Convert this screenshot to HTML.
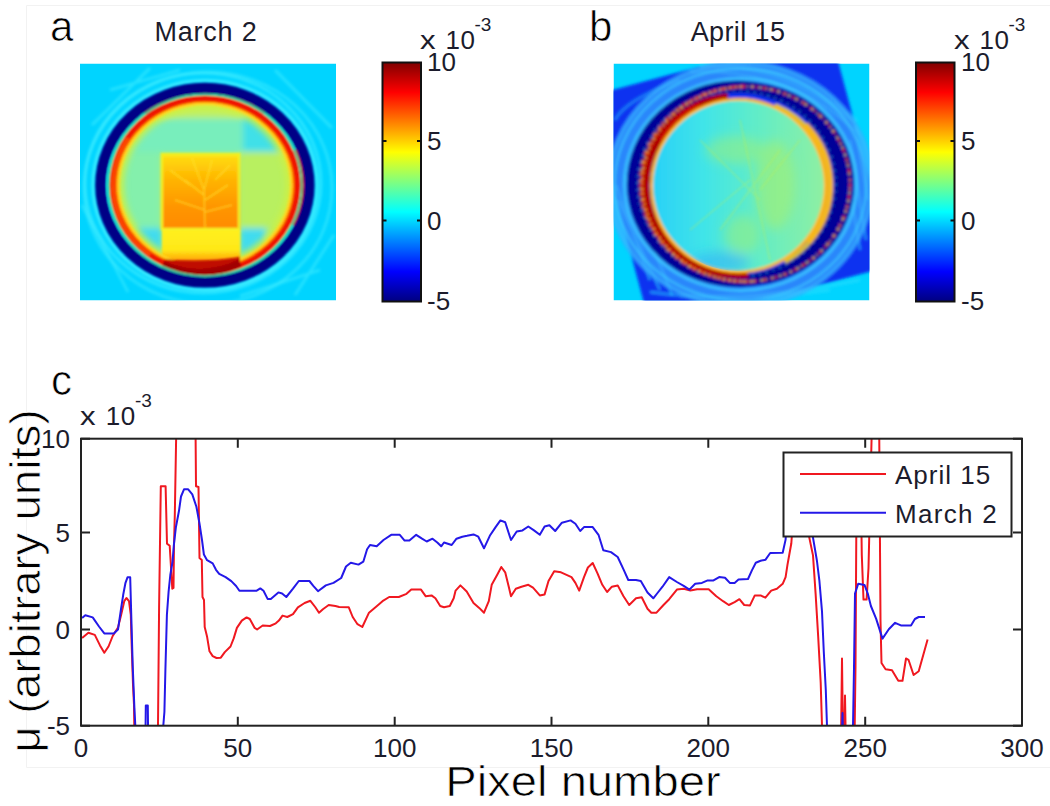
<!DOCTYPE html>
<html><head><meta charset="utf-8"><style>
html,body{margin:0;padding:0;background:#fff;}
svg{display:block;}
text{font-family:"Liberation Sans", sans-serif;}
</style></head><body>
<svg width="1050" height="806" viewBox="0 0 1050 806">
<defs>
<linearGradient id="jet" x1="0" y1="0" x2="0" y2="1">
<stop offset="0" stop-color="#800000"/><stop offset="0.125" stop-color="#ff0000"/><stop offset="0.375" stop-color="#ffff00"/><stop offset="0.625" stop-color="#00ffff"/><stop offset="0.875" stop-color="#0000ff"/><stop offset="1" stop-color="#000080"/>
</linearGradient>
<clipPath id="clipA"><rect x="80" y="63.5" width="256" height="237"/></clipPath>
<clipPath id="clipBin"><ellipse cx="738.5" cy="185.6" rx="86" ry="85.3"/></clipPath>
<clipPath id="clipB"><rect x="613.5" y="63.5" width="256" height="237"/></clipPath>
<clipPath id="clipAin"><ellipse cx="204.9" cy="185.2" rx="96" ry="90"/></clipPath>
<filter id="blur3" x="-10%" y="-10%" width="120%" height="120%"><feGaussianBlur stdDeviation="3"/></filter>
<filter id="blur6" x="-20%" y="-20%" width="140%" height="140%"><feGaussianBlur stdDeviation="6"/></filter>
<linearGradient id="yelb" x1="0" y1="0" x2="0" y2="1"><stop offset="0" stop-color="#fff020"/><stop offset="0.6" stop-color="#ffe818"/><stop offset="1" stop-color="#ff9000"/></linearGradient>
<linearGradient id="orng" x1="0" y1="0" x2="0" y2="1"><stop offset="0" stop-color="#f8f020"/><stop offset="0.07" stop-color="#ffd810"/><stop offset="0.35" stop-color="#ffb400"/><stop offset="0.7" stop-color="#ff9600"/><stop offset="1" stop-color="#ff8a00"/></linearGradient>
<filter id="blur1" x="-5%" y="-5%" width="110%" height="110%"><feGaussianBlur stdDeviation="1.2"/></filter>
<filter id="blur15" x="-5%" y="-5%" width="110%" height="110%"><feGaussianBlur stdDeviation="1.5"/></filter>
<linearGradient id="bint" x1="0" y1="0" x2="1" y2="0"><stop offset="0" stop-color="#28d0f8"/><stop offset="0.3" stop-color="#40e4e8"/><stop offset="0.6" stop-color="#60ecc8"/><stop offset="1" stop-color="#90f0a0"/></linearGradient>
<clipPath id="axc"><rect x="81" y="438.7" width="941" height="287"/></clipPath>
</defs>
<rect width="1050" height="806" fill="#fff"/>
<path d="M26.5 767.5V5.5H1050M26.5 767.5H1050" stroke="#f2f2f2" stroke-width="1" fill="none"/>
<!-- panel letters -->
<g font-size="42" fill="#000" stroke="#fff" stroke-width="0.7">
<text x="50" y="41.4">a</text><text x="589" y="41.4">b</text><text x="51" y="395">c</text>
</g>
<g font-size="27" fill="#1c1c2c">
<text x="206" y="41" text-anchor="middle" letter-spacing="0.8">March 2</text>
<text x="738" y="41" text-anchor="middle" letter-spacing="0.4">April 15</text>
</g>
<!-- heatmap a -->
<g clip-path="url(#clipA)">
<rect x="80" y="63.5" width="256" height="237" fill="#00d4ff"/>
<g filter="url(#blur15)" fill="none" stroke="#50f4ff">
<ellipse cx="205" cy="185" rx="112" ry="104.5" stroke-width="3" opacity="0.8"/>
<ellipse cx="203" cy="183" rx="118" ry="110" stroke-width="2.5" opacity="0.6"/>
<ellipse cx="208" cy="188" rx="124" ry="116" stroke-width="2.5" opacity="0.5"/>
<path d="M82 205 L128 292 M92 125 L150 68 M275 70 L332 128 M295 295 L334 235 M110 90 L180 70 M240 296 L320 270" stroke-width="2.5" opacity="0.5"/>
</g>
<ellipse cx="204.9" cy="185.2" rx="96" ry="90" fill="#a8f07c"/>
<g clip-path="url(#clipAin)" filter="url(#blur3)">
<rect x="100" y="90" width="220" height="40" fill="#c0f060"/>
<rect x="118" y="118" width="127" height="36" fill="#78eebc"/>
<rect x="243" y="113" width="50" height="40" fill="#40e0e8"/>
<rect x="100" y="152" width="61" height="78" fill="#84f0ac"/>
<rect x="100" y="228" width="36" height="45" fill="#88f0a0"/>
<rect x="134" y="228" width="28" height="30" fill="#40dcf0"/>
<rect x="240" y="152" width="60" height="78" fill="#b8f060"/>
<rect x="240" y="228" width="26" height="32" fill="#40dcf0"/>
<rect x="266" y="228" width="40" height="45" fill="#a0f080"/>
</g>
<ellipse cx="204.9" cy="185.2" rx="85" ry="80" fill="none" stroke="#d0f040" stroke-width="7" filter="url(#blur3)" clip-path="url(#clipAin)"/>
<g clip-path="url(#clipAin)" filter="url(#blur1)">
<rect x="160.8" y="153" width="79.6" height="77" fill="url(#orng)"/>
<path d="M192 158 L204 190 L205 228 M204 190 L212 160 M204 195 L185 180 M205 200 L228 185 M205 210 L175 200 M205 212 L232 205 M170 170 L190 185 M230 165 L215 180" stroke="#ffe830" stroke-width="1.6" fill="none" opacity="0.55"/>
<rect x="162" y="154" width="77" height="75" fill="none" stroke="#f0f020" stroke-width="2.5"/>
<rect x="162" y="229.6" width="78.4" height="34" fill="url(#yelb)"/>
</g>
<g filter="url(#blur1)" fill="none">
<ellipse cx="204.9" cy="185.2" rx="86.5" ry="81.5" stroke="#ffd820" stroke-width="3"/>
<ellipse cx="204.9" cy="185.2" rx="89" ry="84" stroke="#ff9000" stroke-width="3"/>
<path d="M162 259 Q203 263 240 257 L240 268 Q203 284 162 268 Z" fill="#c00800" stroke="none"/>
<ellipse cx="204.9" cy="185.2" rx="92.3" ry="86.6" stroke="#f01400" stroke-width="6"/>
<path d="M128 138 A92.3 86.6 0 0 0 150 255" stroke="#ff5000" stroke-width="4" opacity="0.85"/>
<path d="M145 113 A92 86.6 0 0 1 265 112" stroke="#d00000" stroke-width="5.5"/>
<path d="M295 150 A92 86.6 0 0 1 293 225" stroke="#e00800" stroke-width="6"/>
<path d="M163 264 Q203 281 240 263" stroke="#a00000" stroke-width="7"/>
<ellipse cx="204.9" cy="185.2" rx="96.7" ry="91" stroke="#30e0a0" stroke-width="2"/>
<ellipse cx="204.9" cy="185.2" rx="104.4" ry="97.1" stroke="#000086" stroke-width="10.5"/>
</g>
</g>

<!-- heatmap b -->
<g clip-path="url(#clipB)">
<rect x="613.5" y="63.5" width="256" height="237" fill="#00d4ff"/>
<g filter="url(#blur15)">
<rect x="-125" y="-121" width="250" height="242" fill="#0a30f0" transform="translate(740.7,180.9) rotate(-15)"/>
<g stroke="#30e0ff" fill="none">
<path d="M700 66 Q780 60 856 122" stroke-width="6" opacity="0.45"/>
<path d="M690 72 Q790 66 860 135" stroke-width="3" opacity="0.5"/>
<path d="M855 125 L868 200 M850 140 L866 240 M845 160 L860 250" stroke-width="2.5" opacity="0.5"/>
<path d="M616 185 L650 280 M618 200 L660 290 M625 175 L672 295" stroke-width="2.5" opacity="0.55"/>
<path d="M650 292 Q740 305 860 280 M680 296 Q760 300 830 290" stroke-width="3" opacity="0.5"/>
<path d="M615 120 Q625 100 680 80" stroke-width="3" opacity="0.4"/>
</g>
<ellipse cx="740.5" cy="184.4" rx="123.5" ry="113.5" fill="none" stroke="#38a8ff" stroke-width="21" opacity="0.72"/>
<ellipse cx="740.5" cy="184.4" rx="131" ry="121" fill="none" stroke="#40d0ff" stroke-width="2" opacity="0.5"/>
<ellipse cx="740.5" cy="184.4" rx="116" ry="106" fill="none" stroke="#40d8ff" stroke-width="3" opacity="0.7"/>
<ellipse cx="740.5" cy="184.4" rx="126" ry="116" fill="none" stroke="#40d8ff" stroke-width="2.5" opacity="0.6"/>
<ellipse cx="745" cy="184" rx="105" ry="97.5" fill="none" stroke="#000098" stroke-width="8"/>
<ellipse cx="736.5" cy="183.8" rx="103.5" ry="97" fill="none" stroke="#000098" stroke-width="12"/>
<ellipse cx="745" cy="184" rx="105" ry="97.5" fill="none" stroke="#d02000" stroke-width="2.2" stroke-dasharray="3 2 2 4 4 2 1 3"/>
<ellipse cx="745" cy="184" rx="105" ry="97.5" fill="none" stroke="#f0e040" stroke-width="1.6" stroke-dasharray="2 5 1 3 2 6" stroke-dashoffset="3"/>
<ellipse cx="736.5" cy="183.8" rx="99" ry="93" fill="none" stroke="#40d0ff" stroke-width="1.2" stroke-dasharray="2 5" opacity="0.7"/>
<path d="M728 97.6 A92.5 88 0 1 0 748 273.5" fill="none" stroke="#b00000" stroke-width="8.5"/>
<path d="M745 86.5 A105 97.5 0 1 0 755 281.2" fill="none" stroke="#e02000" stroke-width="2.6" stroke-dasharray="4 1.5 2 2"/>
<path d="M745 86.5 A105 97.5 0 1 0 755 281.2" fill="none" stroke="#f8e040" stroke-width="1.4" stroke-dasharray="1.5 4 2 3" stroke-dashoffset="2"/>
<path d="M700 104 A92.5 88 0 0 0 660 140" fill="none" stroke="#d01000" stroke-width="3"/>
<path d="M775 105 A91.5 88 0 0 1 785 262" fill="none" stroke="#f0d020" stroke-width="4" opacity="0.9"/>
<path d="M805 125 A91.5 88 0 0 1 808 242" fill="none" stroke="#f8b818" stroke-width="7" opacity="0.9"/>
<ellipse cx="738.5" cy="185.6" rx="87.5" ry="86.8" fill="url(#bint)"/>
<ellipse cx="738.5" cy="185.6" rx="87" ry="86.3" fill="none" stroke="#ffb818" stroke-width="3"/>
</g>
<g clip-path="url(#clipBin)" filter="url(#blur6)">
<ellipse cx="775" cy="185" rx="20" ry="45" fill="#b0f060" opacity="0.5"/>
<ellipse cx="735" cy="150" rx="30" ry="14" fill="#a8f068" opacity="0.45"/>
<ellipse cx="742" cy="235" rx="18" ry="20" fill="#a8f068" opacity="0.45"/>
<ellipse cx="720" cy="262" rx="30" ry="10" fill="#30b0f8" opacity="0.6"/>
</g>
<g clip-path="url(#clipBin)" stroke="#c0f050" stroke-width="1.5" fill="none" opacity="0.35" filter="url(#blur1)">
<path d="M700 140 L760 200 M740 120 L770 260 M780 150 L720 230 M690 230 L750 180 M760 190 L800 140"/>
</g>
</g>

<!-- colorbars -->
<g stroke="#111" stroke-width="2">
<rect x="382.5" y="62.5" width="38.5" height="239" fill="url(#jet)"/>
<rect x="916" y="62.5" width="38.5" height="239" fill="url(#jet)"/>
<path d="M421 141H417M421 220.5H417M382.5 141H386.5M382.5 220.5H386.5M954.5 141H950.5M954.5 220.5H950.5M916 141H920M916 220.5H920" />
</g>
<g font-size="26" fill="#1c1c2c">
<text x="427" y="71">10</text><text x="427" y="150">5</text><text x="427" y="230">0</text><text x="427" y="310">-5</text>
<text x="961" y="71">10</text><text x="961" y="150">5</text><text x="961" y="230">0</text><text x="961" y="310">-5</text>
<text x="420" y="48.6" transform="translate(420,48.6) scale(1.2,1) translate(-420,-48.6)">x</text><text x="445.5" y="48.6" letter-spacing="0.5">10</text><text x="474.5" y="31" font-size="19">-3</text>
<text x="954" y="48.6" transform="translate(954,48.6) scale(1.2,1) translate(-954,-48.6)">x</text><text x="979.5" y="48.6" letter-spacing="0.5">10</text><text x="1008.5" y="31" font-size="19">-3</text>
</g>
<!-- chart -->
<g clip-path="url(#axc)" fill="none" stroke-width="2" stroke-linejoin="round">
<polyline stroke="#f01820" points="82.1,638 88.4,632.8 94.8,634.9 100,645.4 104.3,652.8 108.5,646.5 112.7,636 118,627.5 121.1,614.9 124.3,601.1 126.4,598 129,601.1 130.8,614.9 131.5,640 133,685 134,705 135,780 157.5,780 159.1,606.4 160.8,486.2 165.6,486.2 167,543.6 169.7,545.7 172.3,588.7 173.5,588 174,545 174.8,515 176.8,400 195.3,400 196,486.2 198.5,487 199.5,558 201.8,560 202.5,597 204,600 204.7,627 207.1,636.8 209.5,651.3 212.7,656.1 216.5,658 220.8,657.7 224.8,652.1 230.5,646.5 233.7,638.4 236.9,627.9 241.8,620.6 246.6,617.4 249.8,619 254.7,627.9 257.1,629.5 262.7,625.5 270,626 275.8,623.3 278.9,620.6 282.5,615.6 287.3,617 293,614.2 297.9,607.3 304.6,603 310.4,600.8 315.2,607 319,612.7 322.9,609.2 328.7,605 335.4,606 339.2,607 348.8,607.3 352.7,617 357.5,624.2 362.3,627 369,612.7 375.8,607 382.5,601.2 389.2,597 398.8,597 406.5,593.8 411.3,589.6 421,589.6 425.8,596.3 431.5,595.4 435.4,598.3 440.2,606 444,607.3 449.8,606 453.7,598.3 455.6,590.6 460.4,585.4 466.7,591.5 473.5,603 479.2,607.9 484,612.7 488.8,601.2 491.7,584.8 497.5,574.2 501.3,567 505.2,572.3 509,587.7 511,596.3 515.8,588.7 521.5,586.7 528.3,584.8 533,587.7 539.8,595.4 544.6,594.4 548.5,581 554.2,571.3 561,572.3 571.5,577.1 575.4,582.9 579.2,590.6 584,577.1 587.9,567.5 592.7,563 597.5,573.3 602.3,584.8 607.1,592 611.9,586.7 617.7,585.4 623.5,596.3 629.2,605 636,598.3 641.7,597.3 647.5,608.8 651.3,612.7 656.5,612.7 663.5,605 669.2,599.2 676.9,589.6 683.7,588.7 690.4,590.6 697.1,589.2 708.7,589.2 716.3,596.3 723.1,601.2 728.8,605 734.6,602.1 739.4,599.2 744.2,605 750,605.4 754.8,595.4 760.6,595.4 765.4,597.7 771.2,590.6 776.9,588.7 782.7,583.8 785.6,577.1 787.5,564.6 789.4,554 791.3,543.5 793,520 795,480 807,480 809.3,537.6 813,555.4 815.6,593.6 818.2,636.9 820.7,682.7 822,726 823,780 840.5,780 842,658.5 843.5,780 845,695.4 846.5,780 854,780 855.5,667 856.5,500 861,500 861.8,555 863.5,599.6 866.6,599.6 868.5,568 872.5,400 879,400 880.5,620.7 881.5,663 885.6,669.2 892,670.3 898.3,680.8 902.5,680.8 906,658.5 908.5,659.8 913.6,675 918.7,671.2 927.6,639.4"/>
<polyline stroke="#2418e8" points="82.1,618 85.3,615.3 92.7,617.4 99,626.5 104.3,633.4 113.8,633.4 118,629.6 121.1,608.5 123.2,594.8 125.4,583.2 127.5,577.3 130.2,577.3 131,606.4 132.7,665.5 134.4,707.7 135.3,725.6 136,780 145,780 145.8,705.6 147.8,705.6 148.6,780 162.5,780 163.3,725.6 164.4,712 165.4,669.7 166.9,614.9 168.6,591.6 170.3,575 172.5,562 173.8,545.7 175.9,527.2 179,510.8 181,496.5 184,489.3 188.2,489.3 192.3,494.4 196.4,506.7 199.4,523 202,540 203.9,554.5 207.1,560.2 212.7,563.4 216,569.8 219.2,573.9 225.6,577.1 231.3,581.1 236.1,586 239.4,590.8 256.3,590.8 260.3,588.4 263.5,590.8 267.6,598.9 270.8,598.9 278.4,592.4 282.1,593.5 286.3,597 293,588.7 298.8,581 309.4,581 313.3,585.8 318,591.2 325.8,585.4 333.5,582.9 341.2,578 346,566.5 350.8,562.7 358.5,564.6 363.3,561.7 367.1,549.2 370,545 376.7,546.3 383.5,540 391.2,534.8 399.8,534.8 404.6,540.6 409.4,540.6 416.2,534.8 422,538.7 426.7,541.5 432.5,538.7 437.3,542.5 441.2,546.3 444,542.5 451.7,545 456.5,538.7 462.3,536.7 467,535.8 473.5,534.4 478.3,536.7 484,548.3 489.8,535.8 495.6,527.1 500.4,520.4 505.2,522.3 511,540 516.7,531.5 522.5,530.4 528.3,526.5 534,530.4 539.8,534.8 544.6,526.5 549.4,525.2 555.2,531 561.9,522.7 570.6,520.4 575.4,523.8 580.2,531 584,527.1 592.7,527.1 598.5,534.8 603.3,550.2 611,552.1 617.7,557 623.5,569.4 628.3,580 636,580 640.8,581 647.5,592.5 653.3,598.3 657.1,593.5 662.5,586.7 669.2,577.1 676.9,582 683.7,585.8 689.4,589.6 695.2,583.8 701.9,582.9 707.7,580.4 713.5,580.4 719.2,577.1 725,577.7 729.8,582.9 734.6,582.9 738.5,579.6 748,579 751.9,570.4 755.8,562.7 760.6,560.8 765.4,559.8 770.2,553 782.7,552.7 785.6,539.6 788,500 810,500 813,537.6 816.9,560.5 819.4,580.9 822,611.4 823.8,652 825.8,690.3 827,726 827.5,780 841,780 842.5,713 844,780 852.5,780 853,726 854,667.4 855,593.6 858.2,583.8 864.5,584.9 867.7,593.3 870.9,606 876.1,618.6 882.5,638.6 888.8,629.2 895.1,622.8 900.9,625.4 911,625.4 914.9,619 918.7,617 925,617"/>
</g>
<g fill="none" stroke="#222" stroke-width="2">
<rect x="81" y="438.7" width="941" height="287"/>
<path d="M81.0 725.7V716.7M81.0 438.7V447.7"/><path d="M237.8 725.7V716.7M237.8 438.7V447.7"/><path d="M394.7 725.7V716.7M394.7 438.7V447.7"/><path d="M551.5 725.7V716.7M551.5 438.7V447.7"/><path d="M708.3 725.7V716.7M708.3 438.7V447.7"/><path d="M865.2 725.7V716.7M865.2 438.7V447.7"/><path d="M1022.0 725.7V716.7M1022.0 438.7V447.7"/><path d="M81 438.7H90M1022 438.7H1013"/><path d="M81 532.6H90M1022 532.6H1013"/><path d="M81 629.5H90M1022 629.5H1013"/><path d="M81 725.7H90M1022 725.7H1013"/>
</g>
<g font-size="26" fill="#1c1c2c">
<text x="81.0" y="757" text-anchor="middle">0</text><text x="237.8" y="757" text-anchor="middle">50</text><text x="394.7" y="757" text-anchor="middle">100</text><text x="551.5" y="757" text-anchor="middle">150</text><text x="708.3" y="757" text-anchor="middle">200</text><text x="865.2" y="757" text-anchor="middle">250</text><text x="1022.0" y="757" text-anchor="middle">300</text>
<text x="70" y="448.0" text-anchor="end">10</text><text x="70" y="541.9" text-anchor="end">5</text><text x="70" y="638.8" text-anchor="end">0</text><text x="70" y="735.0" text-anchor="end">-5</text>
<text x="80" y="425.3" transform="translate(80,425.3) scale(1.2,1) translate(-80,-425.3)">x</text><text x="105.8" y="425.3" letter-spacing="0.5">10</text><text x="135" y="407.3" font-size="19">-3</text>
</g>
<!-- legend -->
<rect x="783.5" y="452.5" width="228" height="84" fill="#fff" stroke="#222" stroke-width="2"/>
<path d="M800 474H886" stroke="#f01820" stroke-width="2"/>
<path d="M800 512.7H886" stroke="#2418e8" stroke-width="2"/>
<g font-size="26" fill="#1c1c2c">
<text x="895" y="484.3" letter-spacing="1.0">April 15</text>
<text x="895" y="523" letter-spacing="1.3">March 2</text>
</g>
<!-- axis labels -->
<text transform="translate(447.5,796.3) scale(1.124,1)" x="-2" y="0" font-size="42" fill="#000" stroke="#fff" stroke-width="0.7">Pixel number</text>
<text transform="translate(40,581) rotate(-90) scale(1.078,1)" font-size="42" text-anchor="middle" fill="#000" stroke="#fff" stroke-width="0.7">μ (arbitrary units)</text>
</svg>
</body></html>
